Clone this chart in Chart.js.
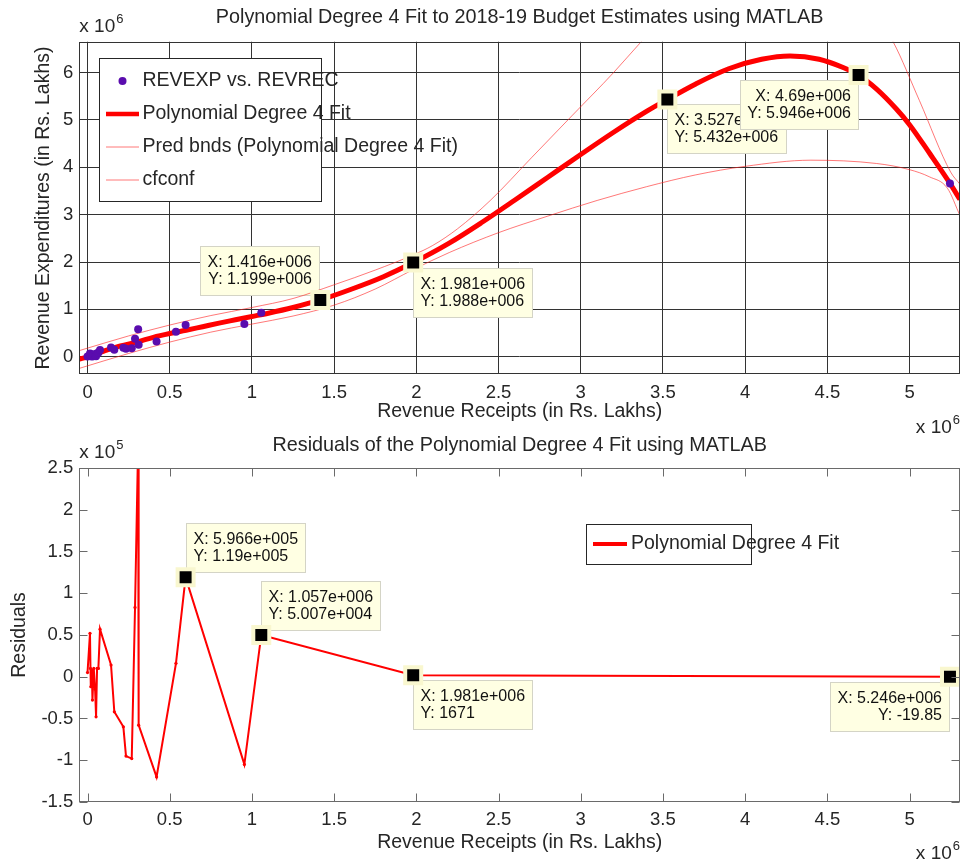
<!DOCTYPE html>
<html>
<head>
<meta charset="utf-8">
<title>Polynomial Degree 4 Fit to 2018-19 Budget Estimates</title>
<script src="https://cdn.jsdelivr.net/npm/chart.js@4.4.1/dist/chart.umd.min.js"></script>
<style>
    html, body { margin: 0; padding: 0; background: #fff; }
    #wrap { position: relative; width: 962px; height: 863px; overflow: hidden; }
    #wrap canvas { position: absolute; left: 0; }
    #fit_chart { top: 0; }
    #resid_chart { top: 432px; }
</style>
</head>
<body>
<div id="wrap">
    <canvas id="fit_chart" width="962" height="440"></canvas>
    <canvas id="resid_chart" width="962" height="431"></canvas>
</div>
<script>
// observed budget figures (Rs. Lakhs), sorted by revenue receipts
var revRec = [0, 15000, 18000, 20000, 26000, 30000, 38000, 46000, 52000, 58000, 66000, 76000,
    143000, 163000, 218000, 234000, 269000, 289000, 308000, 311000, 420000, 538000, 596600,
    954000, 1057000, 1981000, 5246000];
var revExp = [5000, 69000, 30000, 10000, 37000, 5000, 52000, 35000, 9000, 74000, 83000, 141000,
    195000, 150000, 190000, 170000, 180000, 380000, 580000, 255000, 320000, 530000, 670000,
    690000, 930000, 1990000, 3660000];
var residuals = [5000, 52000, 10000, -12000, 8000, -28000, 10000, -15000, -48000, 10000, 10000, 57000,
    14000, -42000, -60000, -95000, -98000, 83000, 280000, -58000, -120000, 16000, 119000,
    -105000, 50070, 1671, -19.85];

// fitted curve
var fitX = [-50000, 0, 100000, 200000, 300000, 400000, 500000, 600000, 700000, 800000, 900000, 1000000,
    1100000, 1250000, 1416000, 1600000, 1800000, 1981000, 2200000, 2400000, 2600000, 2800000, 3000000,
    3200000, 3400000, 3527000, 3700000, 3900000, 4100000, 4273000, 4450000, 4600000, 4690000, 4800000,
    4920000, 5000000, 5125000, 5246000, 5307000];
var fitY = [-50000, 0, 120000, 230000, 310000, 410000, 490000, 560000, 635000, 710000, 780000, 850000,
    920000, 1040000, 1199000, 1420000, 1690000, 1988000, 2400000, 2840000, 3310000, 3790000, 4270000,
    4740000, 5180000, 5432000, 5760000, 6080000, 6280000, 6350000, 6280000, 6100000, 5946000, 5650000,
    5230000, 4900000, 4280000, 3660000, 3320000];

// bound lines
var predX = [-50000, 250000, 500000, 750000, 1000000, 1250000, 1500000, 1750000, 1981000, 2100000,
    2250000, 2450000, 2700000, 2950000, 3200000, 3360000, 3600000, 3900000, 4200000, 4500000, 4700000,
    4900000, 5060000, 5250000, 5307000];
var predY = [130000, 440000, 670000, 870000, 1040000, 1230000, 1520000, 1830000, 2150000, 2350000,
    2700000, 3300000, 4200000, 5100000, 6000000, 6620000, 7500000, 8200000, 8600000, 8400000, 7700000,
    6650000, 5410000, 3900000, 3640000];
var confX = [-50000, 250000, 500000, 750000, 1000000, 1250000, 1500000, 1750000, 1981000, 2200000,
    2500000, 2800000, 3100000, 3400000, 3700000, 4000000, 4400000, 4800000, 5000000, 5120000, 5230000, 5307000];
var confY = [-245000, 70000, 310000, 520000, 690000, 860000, 1090000, 1430000, 1840000, 2200000,
    2620000, 2970000, 3300000, 3590000, 3840000, 4020000, 4150000, 4080000, 3950000, 3800000, 3560000, 2980000];

// ticks
var xTicks = [0, 500000, 1000000, 1500000, 2000000, 2500000, 3000000, 3500000, 4000000, 4500000, 5000000];
var fitYTicks = [0, 1000000, 2000000, 3000000, 4000000, 5000000, 6000000];
var resYTicks = [-150000, -100000, -50000, 0, 50000, 100000, 150000, 200000, 250000];

// data tips
var fitTipX = [1416000, 1981000, 3527000, 4690000];
var fitTipY = [1199000, 1988000, 5432000, 5946000];
var resTipX = [596600, 1057000, 1981000, 5246000];
var resTipY = [119000, 50070, 1671, -19.85];

var FONT = '"Liberation Sans", Arial, sans-serif';
var INK = '#262626';
var PURPLE = '#5a0cae';
var RED = '#ff0000';
var PALE_RED = 'rgba(255, 30, 30, 0.6)';

function points(xs, ys) {
    var out = [];
    for (var i = 0; i < xs.length; i++) {
        out.push({ x: xs[i], y: ys[i] });
    }
    return out;
}

// MATLAB style %.4g, e.g. 1.199e+006
function fmt4g(v) {
    if (v === 0) return '0';
    var exp = Math.floor(Math.log10(Math.abs(v)));
    if (exp < -5 || exp >= 4) {
        var m = String(parseFloat((v / Math.pow(10, exp)).toFixed(3)));
        var e = String(Math.abs(exp));
        while (e.length < 3) e = '0' + e;
        return m + 'e' + (exp < 0 ? '-' : '+') + e;
    }
    return String(parseFloat(v.toPrecision(4)));
}

function fixedTicks(list) {
    return function (scale) {
        scale.ticks = list.map(function (v) { return { value: v }; });
    };
}

var framePlugin = {
    id: 'frame',
    afterDatasetsDraw: function (chart, args, opts) {
        var a = chart.chartArea, ctx = chart.ctx;
        var l = Math.round(a.left) + 0.5, t = Math.round(a.top) + 0.5;
        var r = Math.round(a.right) - 0.5, b = Math.round(a.bottom) - 0.5;
        ctx.save();
        ctx.strokeStyle = opts.color;
        ctx.lineWidth = 1;
        ctx.strokeRect(l, t, r - l, b - t);
        if (opts.tickLen) {
            var xs = chart.scales.x, ys = chart.scales.y, n = opts.tickLen;
            ctx.beginPath();
            xs.ticks.forEach(function (tk) {
                var px = Math.round(xs.getPixelForValue(tk.value)) + 0.5;
                ctx.moveTo(px, b); ctx.lineTo(px, b - n);
                ctx.moveTo(px, t); ctx.lineTo(px, t + n);
            });
            ys.ticks.forEach(function (tk) {
                var py = Math.round(ys.getPixelForValue(tk.value)) + 0.5;
                ctx.moveTo(l, py); ctx.lineTo(l + n, py);
                ctx.moveTo(r, py); ctx.lineTo(r - n, py);
            });
            ctx.stroke();
        }
        ctx.restore();
    }
};

var dataTipPlugin = {
    id: 'dataTips',
    beforeDatasetsDraw: function (chart, args, opts) {
        var xs = chart.scales.x, ys = chart.scales.y, ctx = chart.ctx;
        ctx.save();
        ctx.font = '16px ' + FONT;
        ctx.textBaseline = 'middle';
        opts.x.forEach(function (xv, i) {
            var yv = opts.y[i], place = opts.place[i];
            var mx = xs.getPixelForValue(xv), my = ys.getPixelForValue(yv);
            var lines = ['X: ' + fmt4g(xv), 'Y: ' + fmt4g(yv)];
            var tw = Math.max(ctx.measureText(lines[0]).width, ctx.measureText(lines[1]).width);
            var w = Math.round(tw + 15), h = 50;
            var bx = Math.round(place.charAt(1) === 'r' ? mx : mx - w);
            var by = Math.round(place.charAt(0) === 'd' ? my + 5 : my - 4 - h);
            ctx.fillStyle = '#ffffe3';
            ctx.fillRect(bx, by, w, h);
            ctx.strokeStyle = '#d4d4c6';
            ctx.lineWidth = 1;
            ctx.strokeRect(bx + 0.5, by + 0.5, w - 1, h - 1);
            ctx.fillStyle = '#111';
            if (place.charAt(1) === 'l') {
                ctx.textAlign = 'right';
                ctx.fillText(lines[0], bx + w - 8, by + 17);
                ctx.fillText(lines[1], bx + w - 8, by + 34);
            } else {
                ctx.textAlign = 'left';
                ctx.fillText(lines[0], bx + 7.5, by + 17);
                ctx.fillText(lines[1], bx + 7.5, by + 34);
            }
        });
        ctx.restore();
    }
};

var boxLegendPlugin = {
    id: 'boxLegend',
    afterDraw: function (chart, args, opts) {
        var a = chart.chartArea, ctx = chart.ctx;
        var x0 = Math.round(a.left + opts.left), y0 = Math.round(a.top + opts.top);
        ctx.save();
        ctx.fillStyle = '#fff';
        ctx.fillRect(x0, y0, opts.width, opts.height);
        ctx.strokeStyle = INK;
        ctx.lineWidth = 1;
        ctx.strokeRect(x0 + 0.5, y0 + 0.5, opts.width, opts.height);
        ctx.font = '19.5px ' + FONT;
        ctx.textBaseline = 'middle';
        var row = 0;
        chart.data.datasets.forEach(function (ds) {
            if (!ds.label) return;
            var cy = y0 + opts.firstRow + row * opts.rowGap;
            var lx0 = x0 + opts.sample[0], lx1 = x0 + opts.sample[1];
            if (ds.showLine === false) {
                ctx.fillStyle = ds.pointBackgroundColor;
                ctx.beginPath();
                ctx.arc((lx0 + lx1) / 2, cy, ds.pointRadius, 0, Math.PI * 2);
                ctx.fill();
            } else {
                ctx.strokeStyle = ds.borderColor;
                ctx.lineWidth = ds.legendWidth || ds.borderWidth;
                ctx.beginPath();
                ctx.moveTo(lx0, cy);
                ctx.lineTo(lx1, cy);
                ctx.stroke();
                if (ds.pointRadius) {
                    ctx.fillStyle = ds.borderColor;
                    ctx.beginPath();
                    ctx.arc((lx0 + lx1) / 2, cy, ds.pointRadius, 0, Math.PI * 2);
                    ctx.fill();
                }
            }
            ctx.fillStyle = INK;
            ctx.textAlign = 'left';
            ctx.fillText(ds.label, x0 + opts.textX, cy);
            row++;
        });
        ctx.restore();
    }
};

// "x 10^n" multipliers at the axis corners
var powerPlugin = {
    id: 'power',
    afterDraw: function (chart, args, opts) {
        var a = chart.chartArea, ctx = chart.ctx;
        ctx.save();
        ctx.fillStyle = INK;
        ctx.textBaseline = 'alphabetic';
        ctx.textAlign = 'left';
        opts.marks.forEach(function (m) {
            ctx.font = '19px ' + FONT;
            var bw = ctx.measureText('x 10').width;
            ctx.font = '13px ' + FONT;
            var ew = ctx.measureText(m.exp).width;
            var x = m.corner === 'tl' ? a.left : a.right - bw - ew - 1;
            var y = m.corner === 'tl' ? a.top - m.gap : a.bottom + m.gap;
            ctx.font = '19px ' + FONT;
            ctx.fillText('x 10', x, y);
            ctx.font = '13px ' + FONT;
            ctx.fillText(m.exp, x + bw + 1, y - 9);
        });
        ctx.restore();
    }
};

function axisTitle(text, pad) {
    return { display: true, text: text, color: INK, font: { family: FONT, size: 19.5 }, padding: pad };
}

function tickFont() {
    return { family: FONT, size: 18.5 };
}

var fitChart = new Chart(document.getElementById('fit_chart'), {
    type: 'line',
    data: {
        datasets: [{
            label: '',
            data: points(fitTipX, fitTipY),
            showLine: false,
            pointStyle: 'rect',
            pointRadius: 11.3,
            pointBackgroundColor: '#000',
            pointBorderColor: '#f9f7cf',
            pointBorderWidth: 4,
            clip: false,
            order: 0
        }, {
            label: 'REVEXP vs. REVREC',
            data: points(revRec, revExp),
            showLine: false,
            pointRadius: 4,
            pointBackgroundColor: PURPLE,
            pointBorderWidth: 0,
            clip: 0,
            order: 1
        }, {
            label: 'Polynomial Degree 4 Fit',
            data: points(fitX, fitY),
            borderColor: RED,
            borderWidth: 5,
            legendWidth: 4.5,
            pointRadius: 0,
            cubicInterpolationMode: 'monotone',
            clip: 0,
            order: 2
        }, {
            label: 'Pred bnds (Polynomial Degree 4 Fit)',
            data: points(predX, predY),
            borderColor: PALE_RED,
            borderWidth: 1,
            pointRadius: 0,
            cubicInterpolationMode: 'monotone',
            clip: 0,
            order: 3
        }, {
            label: 'cfconf',
            data: points(confX, confY),
            borderColor: PALE_RED,
            borderWidth: 1,
            pointRadius: 0,
            cubicInterpolationMode: 'monotone',
            clip: 0,
            order: 3
        }]
    },
    options: {
        responsive: false,
        animation: false,
        events: [],
        layout: { autoPadding: false, padding: { left: 0, right: 2, top: 0, bottom: 0 } },
        scales: {
            x: {
                type: 'linear',
                min: -50000,
                max: 5307000,
                afterBuildTicks: fixedTicks(xTicks),
                afterFit: function (scale) { scale.height = 65.7; },
                grid: { color: '#333', drawTicks: false },
                border: { display: false },
                ticks: {
                    color: INK, font: tickFont(), padding: 8, maxRotation: 0, autoSkip: false,
                    callback: function (v) { return String(+(v / 1e6).toFixed(2)); }
                },
                title: axisTitle('Revenue Receipts (in Rs. Lakhs)', { top: 0, bottom: 16.6 })
            },
            y: {
                min: -370000,
                max: 6650000,
                afterBuildTicks: fixedTicks(fitYTicks),
                afterFit: function (scale) { scale.width = 79.3; },
                grid: { color: '#333', drawTicks: false },
                border: { display: false },
                ticks: {
                    color: INK, font: tickFont(), padding: 6,
                    callback: function (v) { return String(+(v / 1e6).toFixed(2)); }
                },
                title: axisTitle('Revenue Expenditures (in Rs. Lakhs)', { top: 31.6, bottom: 0 })
            }
        },
        plugins: {
            legend: { display: false },
            tooltip: { enabled: false },
            title: {
                display: true,
                fullSize: false,
                text: 'Polynomial Degree 4 Fit to 2018-19 Budget Estimates using MATLAB',
                color: INK,
                font: { family: FONT, size: 19.8, weight: 'normal' },
                padding: { top: 6, bottom: 12 }
            },
            frame: { color: '#333' },
            dataTips: { x: fitTipX, y: fitTipY, place: ['ul', 'dr', 'dr', 'dl'] },
            boxLegend: { left: 20, top: 16.5, width: 222, height: 143, firstRow: 23, rowGap: 33,
                sample: [7, 40], textX: 43.5 },
            power: { marks: [{ corner: 'tl', exp: '6', gap: 10 }, { corner: 'br', exp: '6', gap: 59 }] }
        }
    },
    plugins: [framePlugin, dataTipPlugin, boxLegendPlugin, powerPlugin]
});

var residChart = new Chart(document.getElementById('resid_chart'), {
    type: 'line',
    data: {
        datasets: [{
            label: '',
            data: points(resTipX, resTipY),
            showLine: false,
            pointStyle: 'rect',
            pointRadius: 11.3,
            pointBackgroundColor: '#000',
            pointBorderColor: '#f9f7cf',
            pointBorderWidth: 4,
            clip: false,
            order: 0
        }, {
            label: 'Polynomial Degree 4 Fit',
            data: points(revRec, residuals),
            borderColor: RED,
            borderWidth: 2,
            legendWidth: 4,
            pointRadius: 1.6,
            pointBackgroundColor: RED,
            pointBorderWidth: 0,
            clip: 0,
            order: 1
        }]
    },
    options: {
        responsive: false,
        animation: false,
        events: [],
        layout: { autoPadding: false, padding: { left: 0, right: 2, top: 0, bottom: 0 } },
        scales: {
            x: {
                type: 'linear',
                min: -50000,
                max: 5307000,
                afterBuildTicks: fixedTicks(xTicks),
                afterFit: function (scale) { scale.height = 61; },
                grid: { display: false, drawTicks: false },
                border: { display: false },
                ticks: {
                    color: INK, font: tickFont(), padding: 6.5, maxRotation: 0, autoSkip: false,
                    callback: function (v) { return String(+(v / 1e6).toFixed(2)); }
                },
                title: axisTitle('Revenue Receipts (in Rs. Lakhs)', { top: 0, bottom: 8.6 })
            },
            y: {
                min: -150000,
                max: 250000,
                afterBuildTicks: fixedTicks(resYTicks),
                afterFit: function (scale) { scale.width = 79.3; },
                grid: { display: false, drawTicks: false },
                border: { display: false },
                ticks: {
                    color: INK, font: tickFont(), padding: 6,
                    callback: function (v) { return String(+(v / 1e5).toFixed(2)); }
                },
                title: axisTitle('Residuals', { top: 8.1, bottom: 0 })
            }
        },
        plugins: {
            legend: { display: false },
            tooltip: { enabled: false },
            title: {
                display: true,
                fullSize: false,
                text: 'Residuals of the Polynomial Degree 4 Fit using MATLAB',
                color: INK,
                font: { family: FONT, size: 19.8, weight: 'normal' },
                padding: { top: 1.6, bottom: 10.6 }
            },
            frame: { color: '#6a6a6a', tickLen: 8 },
            dataTips: { x: resTipX, y: resTipY, place: ['ur', 'ur', 'dr', 'dl'] },
            boxLegend: { left: 506.4, top: 56.3, width: 165, height: 40, firstRow: 20, rowGap: 0,
                sample: [7, 41], textX: 45 },
            power: { marks: [{ corner: 'tl', exp: '5', gap: 10 }, { corner: 'br', exp: '6', gap: 57 }] }
        }
    },
    plugins: [framePlugin, dataTipPlugin, boxLegendPlugin, powerPlugin]
});
</script>
</body>
</html>
